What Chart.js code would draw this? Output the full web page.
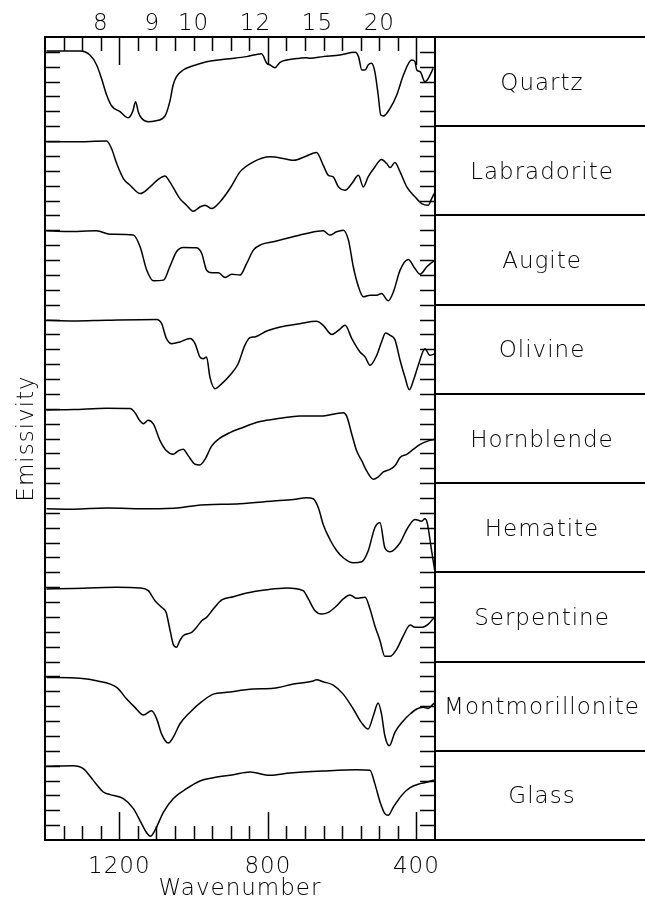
<!DOCTYPE html>
<html>
<head>
<meta charset="utf-8">
<script src="https://cdn.jsdelivr.net/npm/chart.js@4.4.1/dist/chart.umd.min.js"></script>
<style>
  html, body { margin: 0; padding: 0; background: #fff; }
  #wrap { width: 645px; height: 907px; }
</style>
</head>
<body>
<div id="wrap"><canvas id="myChart" width="645" height="907"></canvas></div>
<script>
// panel names, top to bottom
const minerals = ['Quartz', 'Labradorite', 'Augite', 'Olivine', 'Hornblende',
                  'Hematite', 'Serpentine', 'Montmorillonite', 'Glass'];
const micronLabels = [8, 9, 10, 12, 15, 20];
const wnLabels = [1200, 800, 400];

// spectra: [wavenumber, emissivity in tick units inside its panel (0..6)]
const quartz = [[1396,5.06],[1306,5.06],[1279,4.79],[1261,4.12],[1248,3.22],[1234,2.10],[1221,1.38],
  [1198,0.98],[1176,0.57],[1164,0.98],[1156,1.65],[1149,0.98],[1140,0.53],[1122,0.30],[1104,0.35],
  [1077,0.69],[1064,1.65],[1055,2.77],[1046,3.33],[1028,3.78],[1001,4.07],[965,4.34],[911,4.52],
  [857,4.68],[817,4.88],[803,4.23],[794,4.12],[781,3.94],[767,4.30],[749,4.45],[714,4.57],
  [696,4.61],[687,4.57],[651,4.68],[606,4.79],[565,4.97],[556,4.68],[547,3.78],[538,3.78],
  [530,4.12],[521,4.23],[512,3.67],[503,2.10],[496,0.75],[489,0.69],[471,1.20],[453,2.10],
  [435,3.44],[413,4.45],[404,4.34],[399,3.78],[390,3.67],[377,2.99],[368,3.22],[355,3.89]];
const labradorite = [[1396,4.95],[1324,4.95],[1234,5.0],[1221,4.50],[1207,3.49],[1189,2.48],
  [1171,2.03],[1144,1.47],[1117,1.92],[1095,2.43],[1077,2.66],[1064,2.26],[1037,1.13],[1019,0.69],
  [1001,0.28],[983,0.57],[969,0.69],[951,0.46],[929,0.91],[902,1.81],[875,2.93],[839,3.60],
  [794,3.94],[749,3.78],[731,3.71],[696,4.0],[669,4.23],[651,3.38],[637,2.70],[624,2.59],
  [610,1.92],[592,1.70],[574,2.14],[556,2.70],[543,1.92],[530,2.59],[512,3.26],[494,3.76],
  [480,3.49],[471,3.22],[458,3.56],[444,2.93],[426,1.92],[404,1.25],[386,0.80],[368,0.69],
  [359,1.13],[350,1.58]];
const augite = [[1396,4.97],[1342,4.92],[1261,4.97],[1225,4.74],[1162,4.68],[1144,3.89],
  [1126,2.32],[1108,1.61],[1081,1.65],[1064,2.55],[1046,3.56],[1028,3.85],[992,3.83],[978,3.44],
  [965,2.32],[951,2.14],[933,2.14],[915,1.83],[897,2.05],[875,1.99],[857,2.77],[839,3.67],
  [817,4.05],[785,4.23],[740,4.52],[696,4.79],[651,4.97],[633,4.68],[615,4.90],[597,5.01],
  [583,4.34],[570,2.55],[556,1.20],[543,0.53],[525,0.64],[507,0.64],[494,0.75],[476,0.26],
  [462,0.86],[444,2.32],[422,3.04],[404,2.43],[390,2.05],[372,2.55],[350,3.0]];
const olivine = [[1396,4.95],[1324,4.90],[1234,4.95],[1099,5.0],[1086,4.72],[1073,3.72],
  [1059,3.38],[1037,3.49],[1010,3.72],[996,3.38],[983,2.48],[974,2.37],[965,2.48],[956,1.13],
  [942,0.35],[924,0.69],[902,1.25],[880,2.03],[862,3.26],[848,3.78],[835,3.83],[803,4.23],
  [767,4.50],[714,4.72],[669,4.88],[651,4.61],[628,4.0],[610,4.27],[592,4.61],[574,3.72],
  [552,2.82],[538,2.48],[525,1.92],[507,2.59],[494,3.49],[483,4.09],[471,3.94],[458,3.65],
  [444,2.26],[431,1.13],[419,0.28],[408,0.91],[395,1.92],[377,3.04],[364,2.59],[350,2.70]];
const hornblende = [[1396,4.92],[1324,4.95],[1234,5.04],[1171,5.01],[1158,4.74],[1144,4.18],
  [1135,4.0],[1122,4.22],[1108,3.96],[1090,2.84],[1073,2.17],[1055,1.94],[1041,2.17],[1028,2.28],
  [1014,1.83],[996,1.27],[983,1.22],[969,1.61],[951,2.50],[933,2.95],[902,3.40],[875,3.67],
  [821,4.14],[767,4.36],[714,4.52],[651,4.52],[615,4.68],[597,4.74],[588,4.52],[574,3.29],
  [561,2.17],[547,1.49],[534,0.82],[516,0.26],[503,0.42],[489,0.75],[471,0.93],[458,1.16],
  [444,1.72],[426,1.94],[408,2.28],[390,2.61],[368,2.84],[350,2.95]];
const hematite = [[1396,4.27],[1324,4.25],[1234,4.32],[1117,4.27],[1037,4.34],[992,4.50],
  [875,4.61],[785,4.79],[731,4.90],[696,5.01],[678,4.95],[664,4.34],[651,3.22],[633,2.21],
  [615,1.47],[597,0.98],[570,0.64],[547,0.71],[530,1.43],[512,3.0],[498,3.33],[485,1.65],
  [471,1.38],[444,1.99],[426,2.88],[404,3.56],[386,3.44],[377,3.60],[371,3.33],[359,1.43],
  [350,0.0]];
const serpentine = [[1396,4.88],[1324,4.92],[1207,4.99],[1144,4.95],[1122,4.77],[1104,4.09],
  [1086,3.65],[1074,3.31],[1064,2.19],[1055,1.18],[1046,0.96],[1037,1.40],[1028,1.74],[1005,1.96],
  [992,2.30],[978,2.75],[965,2.97],[947,3.53],[924,4.14],[893,4.36],[857,4.61],[803,4.83],
  [749,4.95],[705,4.77],[691,4.21],[673,3.42],[655,3.20],[637,3.31],[619,3.65],[597,4.21],
  [579,4.48],[561,4.25],[538,4.32],[525,3.53],[512,2.41],[498,1.40],[485,0.35],[471,0.35],
  [453,0.84],[435,1.74],[417,2.46],[404,2.30],[386,2.30],[368,2.52],[350,3.04]];
const montmorillonite = [[1396,4.93],[1306,4.87],[1261,4.71],[1207,4.26],[1180,3.48],[1158,2.92],
  [1135,2.40],[1113,2.70],[1099,2.13],[1086,1.12],[1068,0.52],[1055,0.90],[1037,1.80],[1010,2.58],
  [978,3.30],[947,3.81],[911,3.93],[839,4.15],[785,4.20],[731,4.49],[678,4.69],[669,4.78],
  [651,4.64],[624,4.42],[597,3.81],[570,2.81],[547,1.86],[530,1.46],[516,2.36],[503,3.21],
  [494,2.47],[485,1.01],[473,0.34],[458,1.24],[435,2.02],[417,2.47],[399,2.81],[382,2.92],
  [368,2.85],[355,3.14],[350,3.25]];
const glass = [[1396,4.96],[1324,5.0],[1297,4.80],[1270,4.01],[1243,3.23],[1225,3.05],[1189,2.78],
  [1162,2.11],[1140,1.10],[1126,0.47],[1116,0.25],[1104,0.65],[1081,1.88],[1055,2.78],[1019,3.45],
  [983,3.97],[947,4.19],[893,4.39],[848,4.57],[794,4.35],[740,4.50],[651,4.64],[561,4.73],
  [525,4.69],[512,3.79],[498,2.56],[485,1.77],[476,1.66],[462,2.22],[440,3.0],[417,3.52],
  [390,3.79],[372,3.88],[350,4.06]];

const spectra = [quartz, labradorite, augite, olivine, hornblende,
                 hematite, serpentine, montmorillonite, glass];

const TICKS_PER_PANEL = 6;
const FONT = '200 23px "DejaVu Sans"';

// each panel sits 6 tick units above the next one
const datasets = spectra.map((s, k) => {
    const offset = (minerals.length - 1 - k) * TICKS_PER_PANEL;
    return {
        label: minerals[k],
        data: s.map(p => ({ x: p[0], y: offset + p[1] })),
        borderColor: '#000',
        borderWidth: 1.5,
        pointRadius: 0,
        fill: false,
        cubicInterpolationMode: 'monotone'
    };
});

const framePlugin = {
    id: 'frame',
    afterDraw(chart) {
        const ctx = chart.ctx;
        const xs = chart.scales.x;
        const ys = chart.scales.y;
        const a = chart.chartArea;
        const W = chart.width;

        ctx.save();
        ctx.strokeStyle = '#000';
        ctx.fillStyle = '#000';

        // box
        ctx.lineWidth = 2;
        ctx.strokeRect(a.left, a.top, a.right - a.left, a.bottom - a.top);

        // panel separators running into the name column
        for (let k = 0; k <= minerals.length; k++) {
            const y = Math.round(ys.getPixelForValue(k * TICKS_PER_PANEL));
            ctx.beginPath();
            ctx.moveTo(a.right, y);
            ctx.lineTo(W, y);
            ctx.stroke();
        }

        // y ticks, both sides, pointing in
        ctx.lineWidth = 1.5;
        for (let i = 1; i < minerals.length * TICKS_PER_PANEL; i++) {
            const y = Math.round(ys.getPixelForValue(i)) + 0.5;
            ctx.beginPath();
            ctx.moveTo(a.left, y);
            ctx.lineTo(a.left + 15, y);
            ctx.moveTo(a.right - 15, y);
            ctx.lineTo(a.right, y);
            ctx.stroke();
        }

        // x ticks every 50 cm-1, top and bottom
        for (let wn = 400; wn < 1400; wn += 50) {
            const x = Math.round(xs.getPixelForValue(wn)) + 0.5;
            const len = wnLabels.includes(wn) ? 28 : 14;
            ctx.beginPath();
            ctx.moveTo(x, a.bottom);
            ctx.lineTo(x, a.bottom - len);
            ctx.moveTo(x, a.top);
            ctx.lineTo(x, a.top + len);
            ctx.stroke();
        }

        ctx.font = FONT;
        ctx.letterSpacing = '1px';
        ctx.textAlign = 'center';
        ctx.textBaseline = 'alphabetic';

        // bottom labels (wavenumber)
        wnLabels.forEach(wn => {
            ctx.fillText(String(wn), xs.getPixelForValue(wn), 873);
        });
        ctx.fillText('Wavenumber', (a.left + a.right) / 2, 895);

        // top labels (microns)
        micronLabels.forEach(um => {
            ctx.fillText(String(um), xs.getPixelForValue(10000 / um), 30);
        });

        // mineral names
        minerals.forEach((name, k) => {
            const yTop = ys.getPixelForValue((minerals.length - k) * TICKS_PER_PANEL);
            const yBot = ys.getPixelForValue((minerals.length - k - 1) * TICKS_PER_PANEL);
            ctx.fillText(name, 542, (yTop + yBot) / 2 + 8);
        });

        // y title
        ctx.translate(33, (a.top + a.bottom) / 2);
        ctx.rotate(-Math.PI / 2);
        ctx.fillText('Emissivity', 0, 0);

        ctx.restore();
    }
};

new Chart(document.getElementById('myChart'), {
    type: 'line',
    data: { datasets: datasets },
    options: {
        responsive: false,
        animation: false,
        layout: { padding: { left: 45, right: 210, top: 37, bottom: 67 } },
        plugins: { legend: { display: false }, tooltip: { enabled: false } },
        scales: {
            x: { type: 'linear', min: 350, max: 1400, reverse: true, display: false },
            y: { type: 'linear', min: 0, max: minerals.length * TICKS_PER_PANEL, display: false }
        }
    },
    plugins: [framePlugin]
});
</script>
</body>
</html>
